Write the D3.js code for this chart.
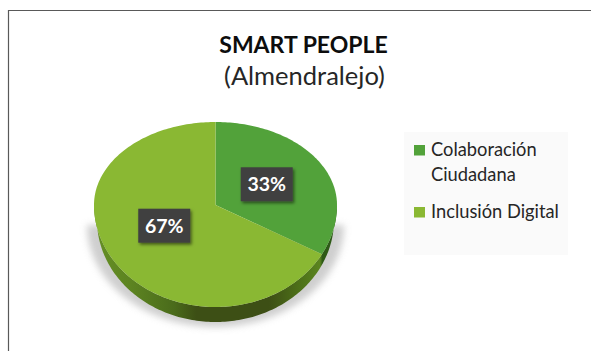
<!DOCTYPE html>
<html>
<head>
<meta charset="utf-8">
<script src="https://cdn.jsdelivr.net/npm/d3@7"></script>
<style>
html, body { margin: 0; padding: 0; background: #fff; }
svg { display: block; }
text { font-family: Lato, "Open Sans", sans-serif; }
</style>
</head>
<body>
<div id="chart"></div>
<script>
const categories = ['Colaboración Ciudadana', 'Inclusión Digital'];
const legendLines = [['Colaboración', 'Ciudadana'], ['Inclusión Digital']];
const values = [33, 67];
const colors = ['#52a23a', '#8ab833'];

const width = 591, height = 351;
const cx = 215.5, cy = 205;
const rx = 121.5, ryTop = 83, ryBottom = 102, depth = 15;

const svg = d3.select('#chart').append('svg')
    .attr('width', width)
    .attr('height', height);

const defs = svg.append('defs');

defs.append('filter').attr('id', 'blur')
    .attr('x', '-20%').attr('y', '-20%').attr('width', '140%').attr('height', '140%')
    .append('feGaussianBlur').attr('stdDeviation', 3.5);

defs.append('filter').attr('id', 'boxShadow')
    .attr('x', '-30%').attr('y', '-30%').attr('width', '160%').attr('height', '160%')
    .append('feDropShadow')
    .attr('dx', 1.5).attr('dy', 2).attr('stdDeviation', 1.6)
    .attr('flood-color', '#000').attr('flood-opacity', 0.5);

const sideGrad = defs.append('linearGradient').attr('id', 'sideGrad')
    .attr('gradientUnits', 'userSpaceOnUse')
    .attr('x1', cx - rx).attr('x2', cx + rx).attr('y1', 0).attr('y2', 0);
[[0, '#658f24'], [0.15, '#5d8421'], [0.33, '#4a6b1b'], [0.42, '#3d4f15'], [0.72, '#3d4f15'], [0.86, '#4f7419'], [0.93, '#5b8420'], [0.94, '#2d5a16'], [1, '#2d5a16']]
    .forEach(([o, c]) => sideGrad.append('stop').attr('offset', o).attr('stop-color', c));

// frame
const frame = d3.path();
frame.moveTo(width, 10.5);
frame.lineTo(8.5, 10.5);
frame.lineTo(8.5, height);
svg.append('path').attr('d', frame.toString())
    .attr('fill', 'none').attr('stroke', '#595959').attr('stroke-width', 1.2);

// title
svg.append('text').attr('x', 303.5).attr('y', 52.5)
    .attr('text-anchor', 'middle')
    .attr('font-size', 23).attr('font-weight', 700).attr('fill', '#0d0d0d')
    .text('SMART PEOPLE');
svg.append('text').attr('x', 304.5).attr('y', 85)
    .attr('text-anchor', 'middle')
    .attr('font-size', 25.5).attr('fill', '#262626')
    .text('(Almendralejo)');

// tilted pie, the front half of the ellipse is stretched for the perspective
const pie = d3.pie().sort(null).value(d => d);
const arcs = pie(values);

function project(angle, radius = 1, shrink = 0, drop = 0) {
    const s = Math.sin(angle), c = Math.cos(angle);
    return [
        cx + (rx - shrink) * radius * s,
        cy + drop - (c > 0 ? ryTop : ryBottom) * radius * c
    ];
}

const line = d3.line();

function sweep(a0, a1, shrink = 0, drop = 0) {
    const n = Math.max(2, Math.ceil(Math.abs(a1 - a0) / 0.02));
    return d3.range(n + 1).map(i => project(a0 + (a1 - a0) * i / n, 1, shrink, drop));
}

// side wall and soft shadow both follow the lower half
const rimTop = sweep(Math.PI / 2, Math.PI * 1.5);
const rimBottom = sweep(Math.PI * 1.5, Math.PI / 2, 3, depth);

svg.append('path')
    .attr('d', line(sweep(Math.PI * 0.5, Math.PI * 1.5, -7, 20)) + 'Z')
    .attr('fill', '#b5b5b5').attr('opacity', 0.65)
    .attr('filter', 'url(#blur)');

svg.append('path')
    .attr('d', line(rimTop.concat(rimBottom)) + 'Z')
    .attr('fill', 'url(#sideGrad)');

// top face
svg.selectAll('path.slice').data(arcs).enter().append('path')
    .attr('class', 'slice')
    .attr('d', d => line([[cx, cy]].concat(sweep(d.startAngle, d.endAngle))) + 'Z')
    .attr('fill', (d, i) => colors[i]);

// data labels
const labelR = 0.49, boxW = 52, boxH = 34;
const labels = svg.selectAll('g.label').data(arcs).enter().append('g')
    .attr('class', 'label')
    .attr('transform', d => {
        const mid = (d.startAngle + d.endAngle) / 2;
        return `translate(${cx + rx * labelR * Math.sin(mid)},${cy - ryTop * labelR * Math.cos(mid)})`;
    });
labels.append('rect')
    .attr('x', -boxW / 2).attr('y', -boxH / 2)
    .attr('width', boxW).attr('height', boxH)
    .attr('fill', '#404040')
    .attr('filter', 'url(#boxShadow)');
labels.append('text')
    .attr('text-anchor', 'middle').attr('dy', 7)
    .attr('font-size', 19.5).attr('font-weight', 700).attr('fill', '#fff')
    .text(d => d.data + '%');

// legend
svg.append('rect')
    .attr('x', 404).attr('y', 132).attr('width', 164).attr('height', 123)
    .attr('fill', '#fafafa');

const legendY = d3.scalePoint().domain(categories).range([150, 212]);
const legend = svg.selectAll('g.legend').data(categories).enter().append('g')
    .attr('class', 'legend')
    .attr('transform', d => `translate(414,${legendY(d)})`);
legend.append('rect')
    .attr('y', -5).attr('width', 11).attr('height', 10.5)
    .attr('fill', (d, i) => colors[i]);
legend.append('text')
    .attr('x', 17).attr('y', 6)
    .attr('font-size', 18.3).attr('fill', '#262626')
    .selectAll('tspan').data((d, i) => legendLines[i]).enter().append('tspan')
    .attr('x', 17)
    .attr('dy', (d, i) => i ? 24.5 : 0)
    .text(d => d);
</script>
</body>
</html>
